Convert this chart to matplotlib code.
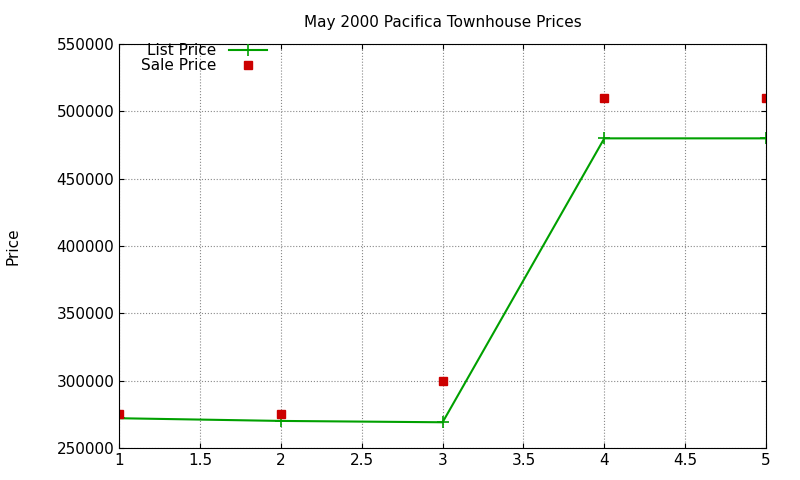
import matplotlib
matplotlib.use("Agg")
import matplotlib.pyplot as plt

x = [1, 2, 3, 4, 5]
list_price = [272000, 270000, 269000, 480000, 480000]
sale_price = [275000, 275000, 300000, 510000, 510000]

fig = plt.figure(figsize=(8, 4.8), dpi=100)
ax = fig.add_axes([0.149, 0.067, 0.8085, 0.841])
ax.plot(x, list_price, color="#00a000", lw=1.5, marker="+", ms=8, mew=1.2, label="List Price")
ax.plot(x, sale_price, ls="none", color="#cc0000", marker="s", ms=6, label="Sale Price")
ax.set_xlim(1, 5)
ax.set_ylim(250000, 550000)
ax.set_xticks([1, 1.5, 2, 2.5, 3, 3.5, 4, 4.5, 5])
ax.set_xticklabels(["1", "1.5", "2", "2.5", "3", "3.5", "4", "4.5", "5"])
ax.set_yticks(range(250000, 550001, 50000))
ax.tick_params(direction="in", labelsize=11, top=True, right=True)
ax.grid(True, ls=":", color="#888888", lw=0.8)
ax.set_title("May 2000 Pacifica Townhouse Prices", fontsize=11, pad=12)
ax.set_ylabel("Price", fontsize=11, labelpad=26)
leg = ax.legend(loc="upper left", markerfirst=False, frameon=False, fontsize=11,
                handlelength=2.5, borderaxespad=0.2, labelspacing=0.0,
                bbox_to_anchor=(0.02, 1.025))
for t in leg.get_texts():
    t.set_ha("right")
fig.savefig("out.png")
